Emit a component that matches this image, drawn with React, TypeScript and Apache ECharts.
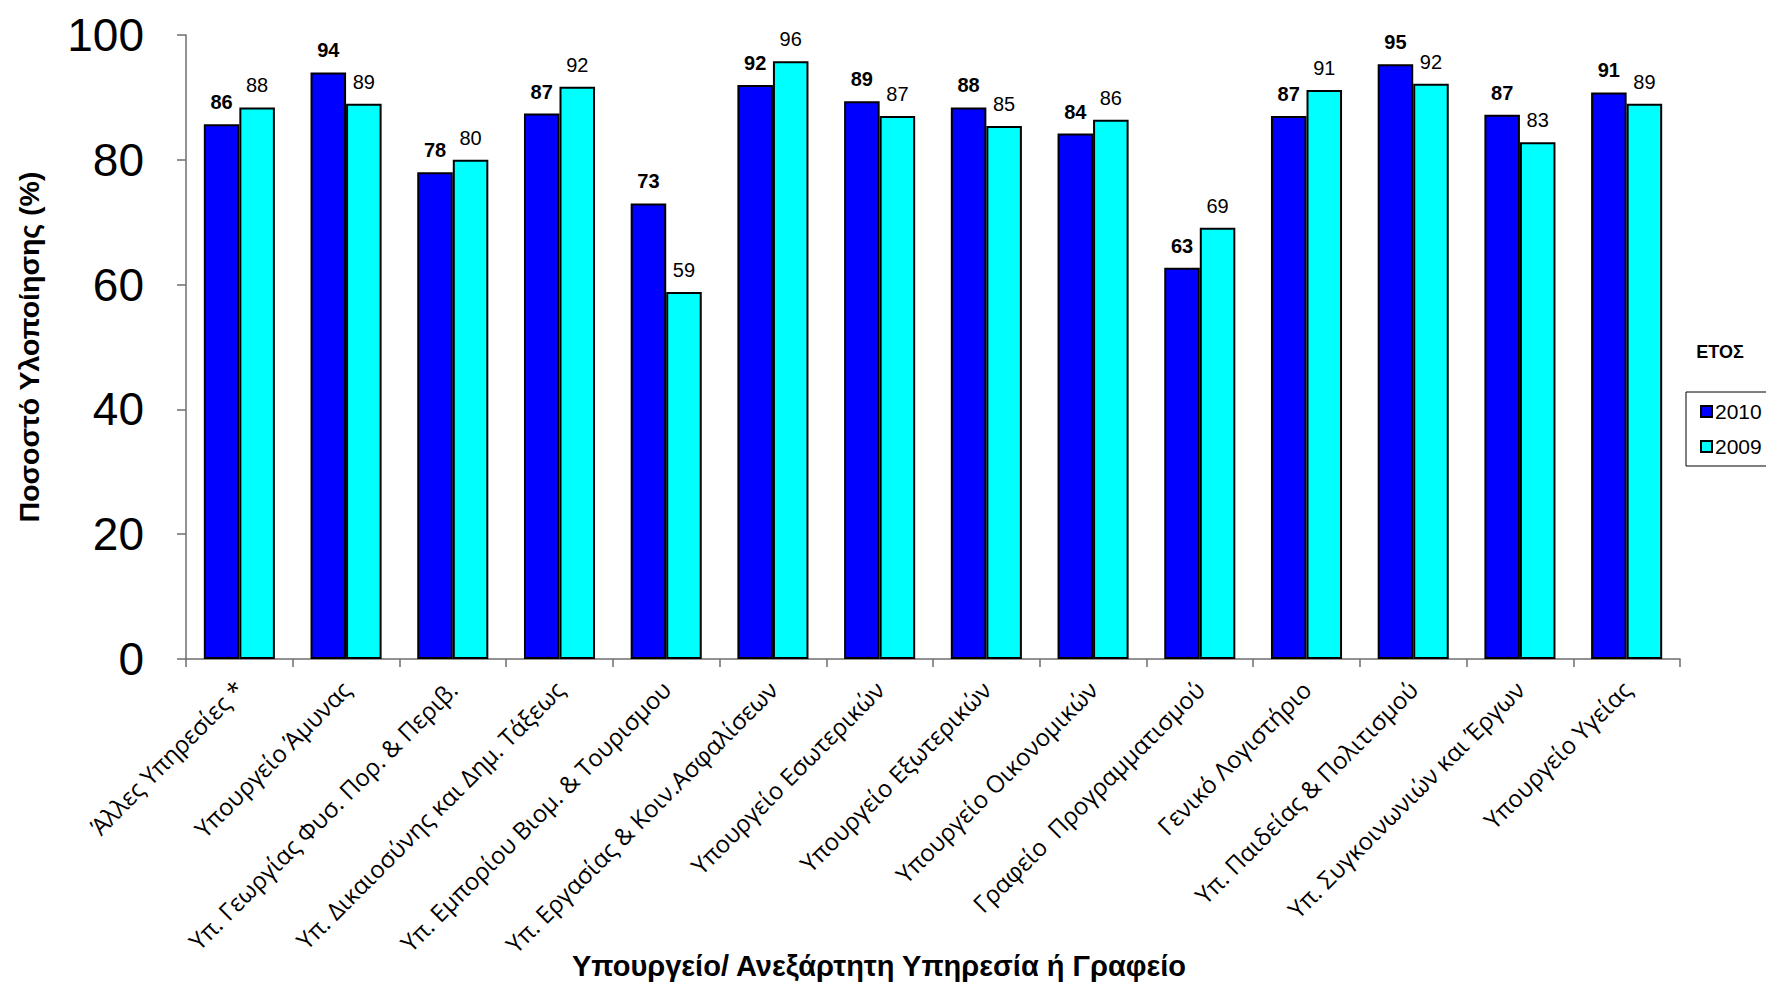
import React, { useEffect, useRef } from "react";
import * as echarts from "echarts";

const categories = [
  "Άλλες Υπηρεσίες *",
  "Υπουργείο Άμυνας",
  "Υπ. Γεωργίας Φυσ. Πορ. & Περιβ.",
  "Υπ. Δικαιοσύνης και Δημ. Τάξεως",
  "Υπ. Εμπορίου Βιομ. & Τουρισμου",
  "Υπ. Εργασίας & Κοιν.Ασφαλίσεων",
  "Υπουργείο Εσωτερικών",
  "Υπουργείο Εξωτερικών",
  "Υπουργείο Οικονομικών",
  "Γραφείο  Προγραμματισμού",
  "Γενικό Λογιστήριο",
  "Υπ. Παιδείας & Πολιτισμού",
  "Υπ. Συγκοινωνιών και Έργων",
  "Υπουργείο Υγείας",
];

const values2010 = [85.7, 94.0, 78.0, 87.4, 73.0, 92.0, 89.4, 88.4, 84.2, 62.7, 87.0, 95.3, 87.2, 90.8];
const values2009 = [88.4, 89.0, 80.0, 91.7, 58.8, 95.8, 87.0, 85.4, 86.4, 69.1, 91.2, 92.2, 82.8, 89.0];

const seriesNames = ["2010", "2009"];
const yTicks = { min: 0, max: 100, interval: 20 };

const FONT = "'Liberation Sans', Arial, sans-serif";

export default function App() {
  const ref = useRef<HTMLDivElement>(null);

  useEffect(() => {
    if (!ref.current) return;
    const chart = echarts.init(ref.current, null, { renderer: "svg" });
    chart.setOption({
      animation: false,
      backgroundColor: "#ffffff",
      grid: { left: 186, right: 86, top: 35, bottom: 325, containLabel: false },
      legend: {
        orient: "vertical",
        left: 1686,
        top: 392,
        borderColor: "#000",
        borderWidth: 1,
        padding: [9, 20, 9, 14],
        itemGap: 14,
        itemWidth: 11,
        itemHeight: 11,
        icon: "rect",
        textStyle: { fontFamily: FONT, fontSize: 21, color: "#000", padding: [0, 0, 0, -2] },
        data: seriesNames,
      },
      xAxis: {
        type: "category",
        data: categories,
        axisLine: { show: true, lineStyle: { color: "#6e6e6e", width: 1.5 } },
        axisTick: { show: true, length: 8, lineStyle: { color: "#6e6e6e", width: 1.5 } },
        axisLabel: {
          interval: 0,
          rotate: 45,
          margin: 26,
          fontFamily: "'Open Sans', 'Noto Sans', sans-serif",
          fontSize: 24,
          color: "#000",
        },
      },
      yAxis: {
        type: "value",
        min: yTicks.min,
        max: yTicks.max,
        interval: yTicks.interval,
        name: "Ποσοστό Υλοποίησης (%)",
        nameLocation: "middle",
        nameRotate: 90,
        nameGap: 143,
        nameTextStyle: { fontFamily: FONT, fontSize: 28.5, fontWeight: "bold", color: "#000" },
        axisLine: { show: true, lineStyle: { color: "#6e6e6e", width: 1.5 } },
        axisTick: { show: true, length: 9, lineStyle: { color: "#6e6e6e", width: 1.5 } },
        splitLine: { show: false },
        axisLabel: { fontFamily: FONT, fontSize: 46, color: "#000", margin: 42 },
      },
      graphic: [
        {
          type: "text",
          x: 1720,
          y: 352,
          style: {
            text: "ΕΤΟΣ",
            fontFamily: FONT,
            fontSize: 18,
            fontWeight: "bold",
            fill: "#000",
            align: "center",
            verticalAlign: "middle",
          },
        },
        {
          type: "text",
          x: 879,
          y: 966,
          style: {
            text: "Υπουργείο/ Ανεξάρτητη Υπηρεσία ή Γραφείο",
            fontFamily: FONT,
            fontSize: 29,
            fontWeight: "bold",
            fill: "#000",
            align: "center",
            verticalAlign: "middle",
          },
        },
      ],
      series: [
        {
          name: seriesNames[0],
          type: "bar",
          data: values2010,
          barWidth: "33.3%",
          barGap: "0%",
          itemStyle: { color: "#0000ff", borderColor: "#000", borderWidth: 2 },
          label: {
            show: true,
            position: "top",
            distance: 12,
            fontFamily: FONT,
            fontSize: 20,
            fontWeight: "bold",
            color: "#000",
            formatter: (p: any) => String(Math.round(p.value)),
          },
        },
        {
          name: seriesNames[1],
          type: "bar",
          data: values2009,
          barWidth: "33.3%",
          barGap: "0%",
          itemStyle: { color: "#00ffff", borderColor: "#000", borderWidth: 2 },
          label: {
            show: true,
            position: "top",
            distance: 12,
            fontFamily: FONT,
            fontSize: 20,
            color: "#000",
            formatter: (p: any) => String(Math.round(p.value)),
          },
        },
      ],
    });
    return () => chart.dispose();
  }, []);

  return (
    <div
      ref={ref}
      style={{ position: "fixed", left: 0, top: 0, width: 1766, height: 984 }}
    />
  );
}
